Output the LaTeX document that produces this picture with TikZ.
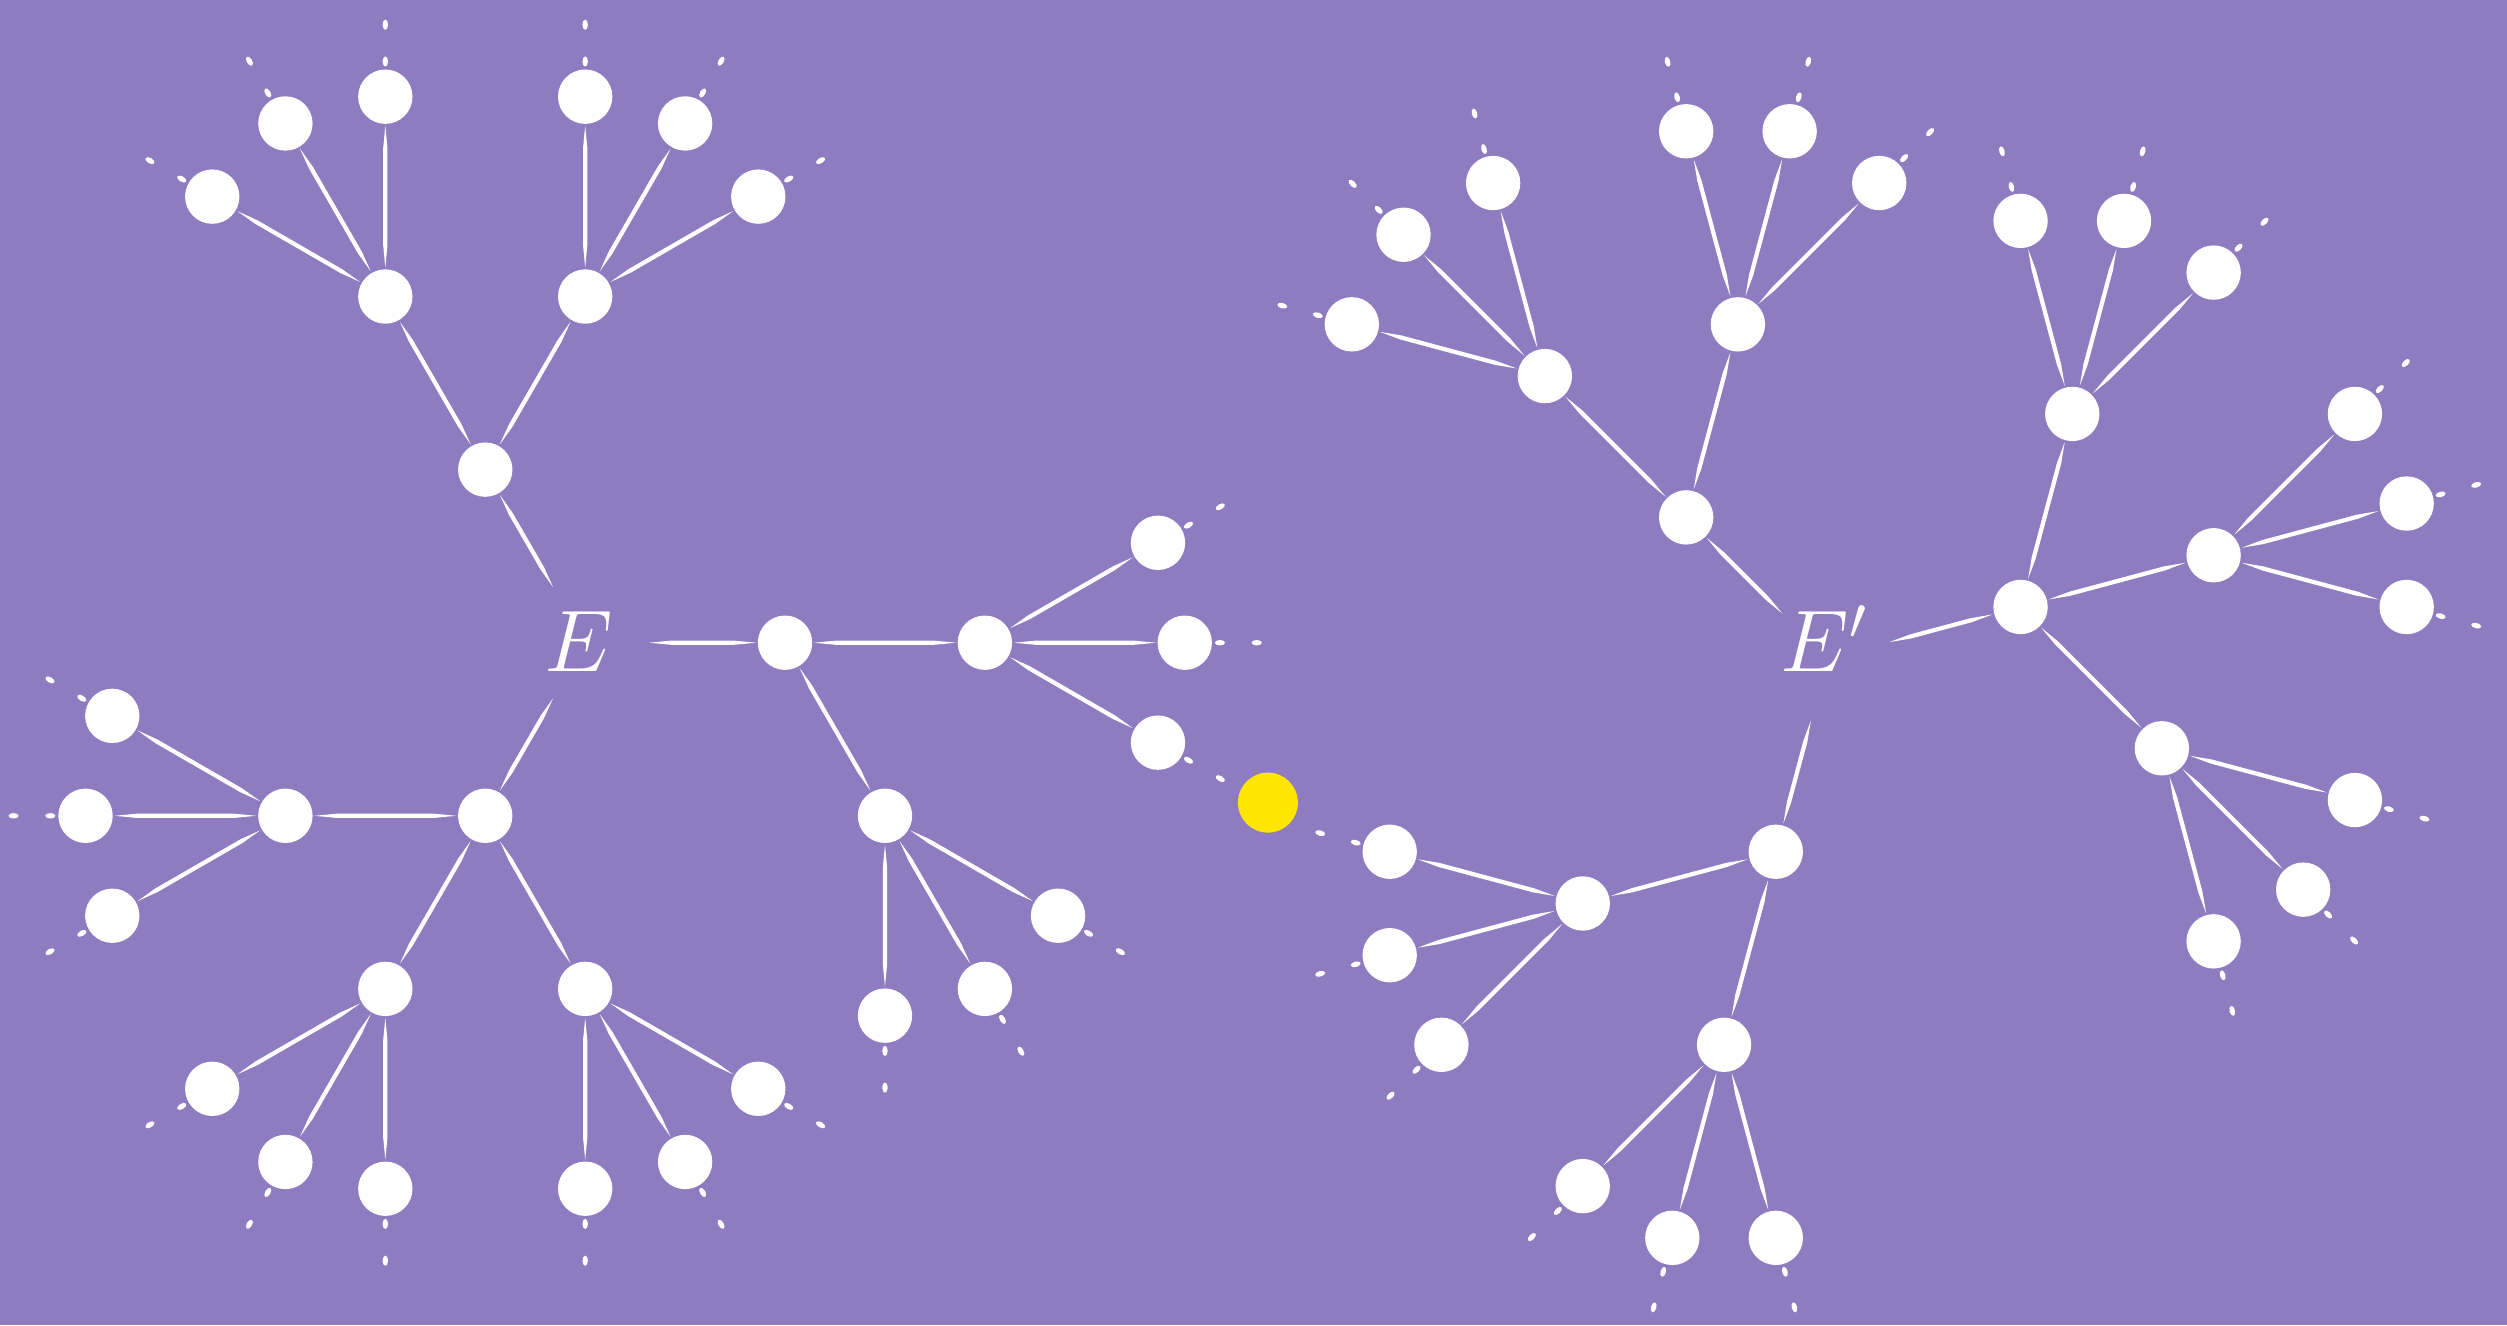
\documentclass[tikz,border=0pt]{standalone}
\usetikzlibrary{calc}

\definecolor{bgpurple}{RGB}{142,123,192}
\definecolor{sunyellow}{RGB}{255,230,0}

% geometry of the two trees (one unit = one px of a 1568 x 829 canvas)
\newcommand\kLen{125}
\newcommand\kGap{0.29cm}
\newcommand\kHub{0.64cm}
\newcommand\kTaper{0.22cm}
\newcommand\kHalf{0.6pt}

\tikzset{
  vertex/.style={circle, fill=white, draw=none, inner sep=0pt, minimum size=0.544cm},
  sun/.style={circle, fill=sunyellow, draw=none, inner sep=0pt, minimum size=0.60cm},
  hublabel/.style={text=white, inner sep=0pt, anchor=base, font=\fontsize{24}{28}\selectfont},
  linkfill/.style={fill=white, draw=none},
}

% tapered white link between #1 and #2, leaving gaps #3 and #4 at the ends
\newcommand\kJoin[4]{%
  \fill[linkfill]
    ($(#1)!#3!(#2)$)
    -- ($(#1)!#3+\kTaper!(#2)!\kHalf!90:(#2)$)
    -- ($(#2)!#4+\kTaper!(#1)!\kHalf!-90:(#1)$)
    -- ($(#2)!#4!(#1)$)
    -- ($(#2)!#4+\kTaper!(#1)!\kHalf!90:(#1)$)
    -- ($(#1)!#3+\kTaper!(#2)!\kHalf!-90:(#2)$)
    -- cycle;}

% child #1 of vertex #2 in direction #3
\newcommand\kBranch[3]{%
  \node[vertex] (#1) at ($(#2)+(#3:\kLen)$) {};
  \kJoin{#2}{#1}{\kGap}{\kGap}}

% child #1 of a labelled hub #2 in direction #3
\newcommand\kHubBranch[3]{%
  \node[vertex] (#1) at ($(#2)+(#3:\kLen)$) {};
  \kJoin{#2}{#1}{\kHub}{\kGap}}

% outermost vertex, followed by two small dashes
\newcommand\kTip[3]{%
  \kBranch{#1}{#2}{#3}
  \fill[linkfill, shift={($(#1)+(#3:22)$)}, rotate=#3] (0,0) ellipse (3.2 and 1.7);
  \fill[linkfill, shift={($(#1)+(#3:45)$)}, rotate=#3] (0,0) ellipse (3.2 and 1.7);}

\begin{document}
\begin{tikzpicture}[x=0.0159885cm, y=0.0159885cm]
  \useasboundingbox (0,0) rectangle (1568,829);
  \fill[bgpurple] (0,0) rectangle (1568,829);

  % ---------------- tree E ----------------
  \coordinate (E) at (366,427);
  \node[hublabel] (Elabel) at (362,409) {$E$};

  \kHubBranch{A}{E}{120}
  \kHubBranch{B}{E}{0}
  \kHubBranch{C}{E}{240}

  \kBranch{A1}{A}{120}
  \kBranch{A2}{A}{60}
  \kTip{A1a}{A1}{150} \kTip{A1b}{A1}{120} \kTip{A1c}{A1}{90}
  \kTip{A2a}{A2}{90}  \kTip{A2b}{A2}{60}  \kTip{A2c}{A2}{30}

  \kBranch{C1}{C}{180}
  \kBranch{C2}{C}{240}
  \kBranch{C3}{C}{300}
  \kTip{C1a}{C1}{150} \kTip{C1b}{C1}{180} \kTip{C1c}{C1}{210}
  \kTip{C2a}{C2}{210} \kTip{C2b}{C2}{240} \kTip{C2c}{C2}{270}
  \kTip{C3a}{C3}{270} \kTip{C3b}{C3}{300} \kTip{C3c}{C3}{330}

  \kBranch{B1}{B}{0}
  \kBranch{B2}{B}{300}
  \kTip{B1a}{B1}{30}  \kTip{B1b}{B1}{0}   \kTip{B1c}{B1}{330}
  \kTip{B2a}{B2}{270} \kTip{B2b}{B2}{300} \kTip{B2c}{B2}{330}

  % ---------------- tree E' ----------------
  \coordinate (F) at (1143,417);
  \node[hublabel] (Flabel) at (1141,409) {$E'$};

  \kHubBranch{R1}{F}{135}
  \kHubBranch{R2}{F}{15}
  \kHubBranch{R3}{F}{255}

  \kBranch{R1a}{R1}{135}
  \kBranch{R1b}{R1}{75}
  \kTip{R1a1}{R1a}{165} \kTip{R1a2}{R1a}{135} \kTip{R1a3}{R1a}{105}
  \kTip{R1b1}{R1b}{105} \kTip{R1b2}{R1b}{75}  \kTip{R1b3}{R1b}{45}

  \kBranch{R2a}{R2}{75}
  \kBranch{R2b}{R2}{15}
  \kBranch{R2c}{R2}{-45}
  \kTip{R2a1}{R2a}{105} \kTip{R2a2}{R2a}{75}  \kTip{R2a3}{R2a}{45}
  \kTip{R2b1}{R2b}{45}  \kTip{R2b2}{R2b}{15}  \kTip{R2b3}{R2b}{-15}
  \kTip{R2c1}{R2c}{-15} \kTip{R2c2}{R2c}{-45} \kTip{R2c3}{R2c}{-75}

  \kBranch{R3a}{R3}{195}
  \kBranch{R3b}{R3}{255}
  \kTip{R3a1}{R3a}{165} \kTip{R3a2}{R3a}{195} \kTip{R3a3}{R3a}{225}
  \kTip{R3b1}{R3b}{225} \kTip{R3b2}{R3b}{255} \kTip{R3b3}{R3b}{285}

  % ---------------- the yellow point between the trees ----------------
  \node[sun] (Y) at (793,327) {};
\end{tikzpicture}
\end{document}
